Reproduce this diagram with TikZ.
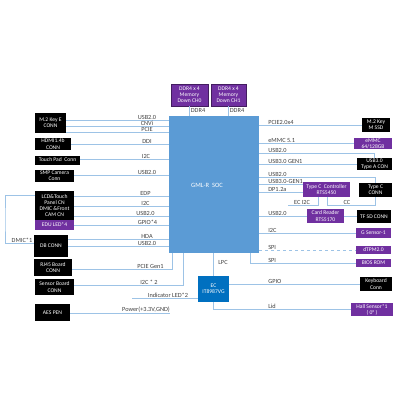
\documentclass[tikz,border=0pt]{standalone}
\usepackage{fontspec}
\setsansfont{Carlito}
\usetikzlibrary{positioning}
\definecolor{socblue}{RGB}{91,155,213}
\definecolor{ecblue}{RGB}{0,112,192}
\definecolor{boxpurple}{RGB}{112,48,160}
\definecolor{wireblue}{RGB}{157,195,230}
\definecolor{labelgray}{RGB}{64,64,64}

\begin{document}
\begin{tikzpicture}[x=1pt,y=-1pt,
    every node/.style={font=\sffamily\fontsize{5.6}{6.2}\selectfont,inner sep=0pt,align=center},
    blk/.style={fill=black,text=white},
    pur/.style={fill=boxpurple,text=white},
    bus/.style={draw=wireblue,line width=0.7pt},
    lbl/.style={text=labelgray,anchor=south,yshift=0.4pt,font=\sffamily\fontsize{6.3}{7}\selectfont},
    rlbl/.style={lbl,anchor=south west}]
        \useasboundingbox (0,0) rectangle (400,400);

        % soc and memory
        \node[fill=socblue,minimum width=90pt,minimum height=137pt] (soc) at (214,184.5) {};
        \node[text=white,font=\sffamily\fontsize{6.5}{7}\selectfont] (socname) at (207,185) {GML-R\ \ SOC};
        \node[pur,draw=boxpurple!60!black,line width=0.4pt,minimum width=37pt,minimum height=22pt] (ddr0) at (189.5,95) {DDR4 x 4\\Memory\\Down CH0};
        \node[pur,draw=boxpurple!60!black,line width=0.4pt,minimum width=35pt,minimum height=22pt] (ddr1) at (228.5,95) {DDR4 x 4\\Memory\\Down CH1};
        \draw[bus] (ddr0.south) -- (soc.north -| ddr0.south)
          node[lbl,anchor=west,yshift=0pt] (ddr0bus) at (190.5,110.5) {DDR4};
        \draw[bus] (ddr1.south) -- (soc.north -| ddr1.south)
          node[lbl,anchor=west,yshift=0pt] (ddr1bus) at (229.5,110.5) {DDR4};

        % left side
        \node[blk,minimum width=31pt,minimum height=20pt] (m2e) at (50.5,123) {M.2 Key E\\CONN};
        \node[blk,minimum width=36pt,minimum height=12pt] (hdmi) at (53,144) {HDMI1.4b\\CONN};
        \node[blk,minimum width=45pt,minimum height=9pt] (tpad) at (57.5,160) {Touch Pad\ \ Conn};
        \node[blk,minimum width=39pt,minimum height=12pt] (cam) at (54.5,176) {SMP Camera\\Conn};
        \node[blk,minimum width=39pt,minimum height=29pt] (lcd) at (54.5,205.5) {LCD\&Touch\\Panel CN\\DMIC \&Front\\CAM CN};
        \node[pur,minimum width=39pt,minimum height=10pt] (edu) at (54.5,225) {EDU LED*4};
        \node[blk,minimum width=34pt,minimum height=22pt] (db) at (51,245.5) {DB CONN};
        \node[blk,minimum width=38pt,minimum height=17pt] (rj45) at (53,267.5) {RJ45 Board\\CONN};
        \node[blk,minimum width=39pt,minimum height=16pt] (sensor) at (54.5,287) {Sensor Board\\CONN};
        \node[blk,minimum width=35pt,minimum height=17pt] (aes) at (52.5,312.5) {AES PEN};

        \draw[bus] (m2e.east |- 0,120) -- (soc.west |- 0,120) node[lbl] (m2eusb) at (147,120) {USB2.0};
        \draw[bus] (m2e.east |- 0,126) -- (soc.west |- 0,126) node[lbl] (m2ecnvi) at (147,126) {CNVi};
        \draw[bus] (m2e.east |- 0,132) -- (soc.west |- 0,132) node[lbl] (m2epcie) at (147,132) {PCIE};
        \draw[bus] (hdmi.east |- 0,144) -- (soc.west |- 0,144) node[lbl] (hdmiddi) at (147,144) {DDI};
        \draw[bus] (tpad.east |- 0,159) -- (soc.west |- 0,159) node[lbl] (tpadi2c) at (146,159) {I2C};
        \draw[bus] (cam.east |- 0,175) -- (soc.west |- 0,175) node[lbl] (camusb) at (147,175) {USB2.0};
        \draw[bus] (lcd.east |- 0,196) -- (soc.west |- 0,196) node[lbl] (lcdedp) at (145.5,196) {EDP};
        \draw[bus] (lcd.east |- 0,206) -- (soc.west |- 0,206) node[lbl] (lcdi2c) at (145.5,206) {I2C};
        \draw[bus] (lcd.east |- 0,216) -- (soc.west |- 0,216) node[lbl] (lcdusb) at (145.5,216) {USB2.0};
        \draw[bus] (edu.east |- 0,225) -- (soc.west |- 0,225) node[lbl] (edugpio) at (147.5,225) {GPIO*4};
        \draw[bus] (db.east |- 0,239) -- (soc.west |- 0,239) node[lbl] (dbhda) at (147,239) {HDA};
        \draw[bus] (db.east |- 0,246.5) -- (soc.west |- 0,246.5) node[lbl] (dbusb) at (147,246.5) {USB2.0};
        \draw[bus] (lcd.west |- 0,195) -| (5,220) |- (db.west |- 0,243)
          node[lbl] (dmic) at (22,243) {DMIC*1};
        \draw[bus] (rj45.east |- 0,269) -| (soc.south -| 172,0) node[lbl] (rj45pcie) at (150.5,269) {PCIE Gen1};
        \draw[bus] (sensor.east |- 0,285) -| (soc.south -| 183,0) node[lbl] (sensori2c) at (149,285) {I2C * 2};
        \coordinate (pwrend) at (170,313);
        \draw[bus] (aes.east |- pwrend) -- (pwrend) node[lbl] (aespwr) at (146,313) {Power(+3.3V,GND)};

        % ec
        \node[fill=ecblue,text=white,minimum width=31pt,minimum height=26pt] (ec) at (213.5,289) {EC\\IT8987VG};
        \draw[bus] (soc.south -| ec.north) -- (ec.north) node[lbl,anchor=west,yshift=0pt] (lpc) at (218,263) {LPC};
        \coordinate (ledend) at (132,298);
        \draw[bus] (ledend) -- (ec.west |- ledend) node[lbl] (ledlbl) at (168,298) {Indicator LED*2};

        % right side
        \node[blk,minimum width=28pt,minimum height=14pt] (m2m) at (376,125) {M.2 Key\\M SSD};
        \node[pur,minimum width=38pt,minimum height=11pt] (emmc) at (373,143.5) {eMMC\\64/128GB};
        \node[blk,minimum width=35pt,minimum height=12pt] (usb3a) at (374.5,164) {USB3.0\\Type A CON};
        \node[pur,minimum width=47pt,minimum height=15pt] (tcc) at (326.5,189.5) {Type C\ \ Controller\\RTS5450};
        \node[blk,minimum width=33pt,minimum height=14pt] (typec) at (375.5,190) {Type C\\CONN};
        \node[pur,minimum width=37pt,minimum height=14pt] (card) at (325.5,216) {Card Reader\\RTS5170};
        \node[blk,minimum width=34pt,minimum height=13pt] (tfsd) at (374,216.5) {TF SD CONN};
        \node[pur,minimum width=35pt,minimum height=10pt] (gsen) at (373.5,233) {G Sensor-1};
        \node[pur,minimum width=35pt,minimum height=8pt] (tpm) at (373.5,250) {dTPM2.0};
        \node[pur,minimum width=35pt,minimum height=8pt] (bios) at (373.5,263) {BIOS ROM};
        \node[blk,minimum width=32pt,minimum height=14pt] (kb) at (376,284) {Keyboard\\Conn};
        \node[pur,minimum width=42pt,minimum height=13pt] (hall) at (372,309.5) {Hall Sensor*1\\( 0° )};

        \draw[bus] (soc.east |- m2m.west) -- (m2m.west) node[rlbl] (ssdpcie) at (268,125) {PCIE2.0x4};
        \draw[bus] (soc.east |- emmc.west) -- (emmc.west) node[rlbl] (emmcbus) at (268,143.5) {eMMC 5.1};
        \draw[bus] (soc.east |- 0,153) -| (usb3a.north) node[rlbl] (usbausb2) at (268,153) {USB2.0};
        \draw[bus] (soc.east |- usb3a.west) -- (usb3a.west) node[rlbl] (usbausb3) at (268,164) {USB3.0 GEN1};
        \draw[bus] (soc.east |- 0,177) -| (typec.north) node[rlbl] (typecusb2) at (268,177) {USB2.0};
        \draw[bus] (soc.east |- 0,184.5) -- (tcc.west |- 0,184.5) node[rlbl] (tccusb3) at (268,184.5) {USB3.0-GEN1};
        \draw[bus] (soc.east |- 0,192.5) -- (tcc.west |- 0,192.5) node[rlbl] (tccdp) at (268,192.5) {DP1.2a};
        \coordinate (eci2cend) at (288,205);
        \draw[bus] (tcc.south -| 318,0) |- (eci2cend) node[lbl] (eci2c) at (302,205) {EC I2C};
        \draw[bus] (tcc.south -| 327,0) |- (typec.south |- 0,205) -- (typec.south)
          node[lbl] (cc) at (347,205) {CC};
        \draw[bus] (soc.east |- card.west) -- (card.west) node[rlbl] (cardusb) at (268,216) {USB2.0};
        \draw[bus] (card.east) -- (tfsd.west |- card.east);
        \draw[bus] (soc.east |- gsen.west) -- (gsen.west) node[rlbl] (gseni2c) at (268,233) {I2C};
        \draw[bus,dashed] (soc.east |- tpm.west) -- (tpm.west) node[rlbl] (tpmspi) at (268,250) {SPI};
        \draw[bus] (soc.south -| 250,0) |- (bios.west) node[rlbl] (biosspi) at (268,263) {SPI};
        \draw[bus] (ec.east |- kb.west) -- (kb.west) node[rlbl] (kbgpio) at (268,284) {GPIO};
        \draw[bus] (ec.south) |- (hall.west) node[rlbl] (hallid) at (268,309.5) {Lid};
      \end{tikzpicture}
\end{document}
